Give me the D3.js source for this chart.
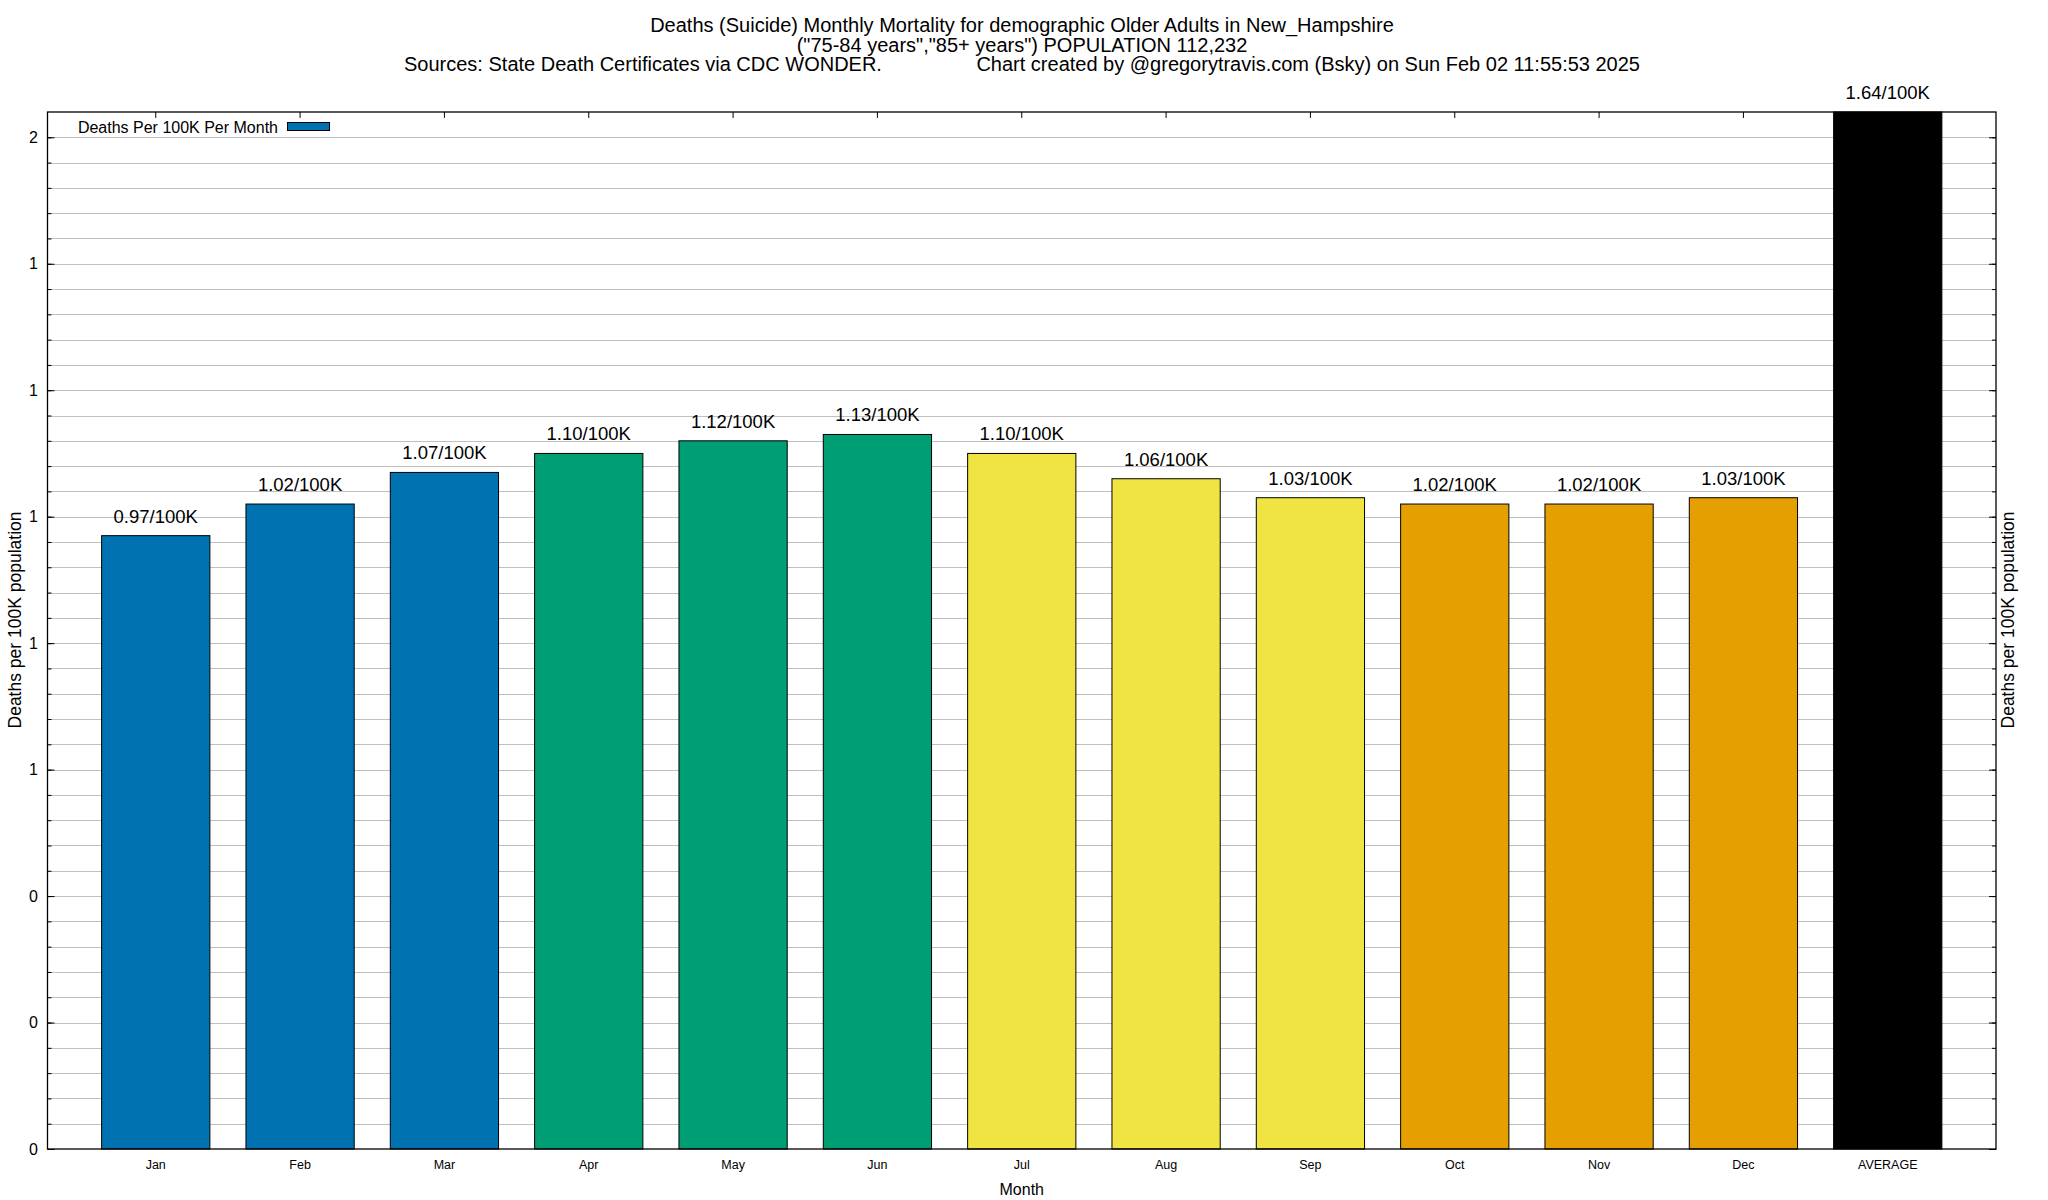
<!DOCTYPE html>
<html>
<head>
<meta charset="utf-8">
<script src="https://cdn.jsdelivr.net/npm/d3@7"></script>
<style>
  body { margin: 0; background: #fff; }
  svg { display: block; font-family: "Liberation Sans", Arial, sans-serif; }
</style>
</head>
<body>
<svg width="2048" height="1200"></svg>
<script>
    // data
    var months = ['Jan', 'Feb', 'Mar', 'Apr', 'May', 'Jun', 'Jul', 'Aug', 'Sep', 'Oct', 'Nov', 'Dec', 'AVERAGE'];
    var rates = [0.97, 1.02, 1.07, 1.10, 1.12, 1.13, 1.10, 1.06, 1.03, 1.02, 1.02, 1.03, 1.64];
    var seasons = ['winter', 'winter', 'winter', 'spring', 'spring', 'spring', 'summer', 'summer', 'summer', 'fall', 'fall', 'fall', 'avg'];
    var yMajorTicks = [0, 0.2, 0.4, 0.6, 0.8, 1.0, 1.2, 1.4, 1.6];

    var titleLines = [
        'Deaths (Suicide) Monthly Mortality for demographic Older Adults in New_Hampshire',
        '("75-84 years","85+ years") POPULATION 112,232',
        'Sources: State Death Certificates via CDC WONDER.                 Chart created by @gregorytravis.com (Bsky) on Sun Feb 02 11:55:53 2025'
    ];

    var width = 2048, height = 1200;
    var margin = ({ top: 112, right: 52, bottom: 51, left: 47.5 });

    var color = d3.scaleOrdinal()
        .domain(['winter', 'spring', 'summer', 'fall', 'avg'])
        .range(['#0072b2', '#009e73', '#f0e442', '#e69f00', '#000000']);

    var x_scale = d3.scaleBand()
        .domain(months)
        .range([margin.left, width - margin.right])
        .paddingInner(0.25)
        .paddingOuter(0.375);

    var y_scale = d3.scaleLinear()
        .domain([0, d3.max(rates)])
        .range([height - margin.bottom, margin.top]);

    var svg = d3.select('svg')
        .attr('viewBox', [0, 0, width, height]);

    var x0 = margin.left, x1 = width - margin.right;
    var yb = y_scale(0), yt = y_scale.range()[1];

    // grid lines at every minor step
    var minor = d3.range(1, 41).map(i => i * 0.04);
    svg.append('g')
        .selectAll('line')
        .data(minor)
        .join('line')
        .attr('x1', x0).attr('x2', x1)
        .attr('y1', d => Math.round(y_scale(d)) + 0.5)
        .attr('y2', d => Math.round(y_scale(d)) + 0.5)
        .attr('stroke', '#c0c0c0')
        .attr('stroke-width', 1);

    // bars
    svg.append('g')
        .selectAll('rect')
        .data(months)
        .join('rect')
        .attr('x', d => x_scale(d))
        .attr('width', x_scale.bandwidth())
        .attr('y', (d, i) => y_scale(rates[i]))
        .attr('height', (d, i) => yb - y_scale(rates[i]))
        .attr('fill', (d, i) => color(seasons[i]))
        .attr('stroke', '#000')
        .attr('stroke-width', 1);

    // bar labels
    svg.append('g')
        .attr('font-size', 18.5)
        .attr('text-anchor', 'middle')
        .selectAll('text')
        .data(months)
        .join('text')
        .attr('x', d => x_scale(d) + x_scale.bandwidth() / 2)
        .attr('y', (d, i) => y_scale(rates[i]) - 13)
        .text((d, i) => rates[i].toFixed(2) + '/100K');

    // y axis left (ticks inside) and mirrored right
    var fmt = d3.format('.0f');
    svg.append('g')
        .attr('transform', `translate(${x0},0)`)
        .call(d3.axisRight(y_scale).tickValues(yMajorTicks).tickSize(7).tickFormat(''))
        .call(g => g.select('.domain').remove());
    svg.append('g')
        .attr('transform', `translate(${x0},0)`)
        .call(d3.axisRight(y_scale).tickValues(minor).tickSize(4).tickFormat(''))
        .call(g => g.select('.domain').remove());
    svg.append('g')
        .attr('transform', `translate(${x1},0)`)
        .call(d3.axisLeft(y_scale).tickValues(yMajorTicks).tickSize(7).tickFormat(''))
        .call(g => g.select('.domain').remove());
    svg.append('g')
        .attr('transform', `translate(${x1},0)`)
        .call(d3.axisLeft(y_scale).tickValues(minor).tickSize(4).tickFormat(''))
        .call(g => g.select('.domain').remove());

    svg.append('g')
        .attr('font-size', 16)
        .attr('text-anchor', 'end')
        .selectAll('text')
        .data(yMajorTicks)
        .join('text')
        .attr('x', 38)
        .attr('y', d => y_scale(d) + 5.5)
        .text(d => fmt(d));

    // top mirrored x ticks
    svg.append('g')
        .attr('transform', `translate(0,${yt})`)
        .call(d3.axisBottom(x_scale).tickSize(6).tickFormat(''))
        .call(g => g.select('.domain').remove());

    // x tick labels
    svg.append('g')
        .attr('font-size', 12.5)
        .attr('text-anchor', 'middle')
        .selectAll('text')
        .data(months)
        .join('text')
        .attr('x', d => x_scale(d) + x_scale.bandwidth() / 2)
        .attr('y', 1169)
        .text(d => d);

    // frame
    svg.append('rect')
        .attr('x', x0).attr('y', yt)
        .attr('width', x1 - x0).attr('height', yb - yt)
        .attr('fill', 'none')
        .attr('stroke', '#000')
        .attr('stroke-width', 1.3);

    // axis titles
    svg.append('text')
        .attr('x', (x0 + x1) / 2).attr('y', 1195)
        .attr('text-anchor', 'middle')
        .attr('font-size', 16)
        .text('Month');
    svg.append('text')
        .attr('transform', `translate(21,620) rotate(-90)`)
        .attr('text-anchor', 'middle')
        .attr('font-size', 17.5)
        .text('Deaths per 100K population');
    svg.append('text')
        .attr('transform', `translate(2014,620) rotate(-90)`)
        .attr('text-anchor', 'middle')
        .attr('font-size', 17.5)
        .text('Deaths per 100K population');

    // title
    svg.append('g')
        .attr('font-size', 20)
        .attr('text-anchor', 'middle')
        .selectAll('text')
        .data(titleLines)
        .join('text')
        .attr('x', 1022)
        .attr('y', (d, i) => 32 + i * 19.6)
        .style('white-space', 'pre')
        .text(d => d);

    // legend
    svg.append('text')
        .attr('x', 278).attr('y', 133)
        .attr('text-anchor', 'end')
        .attr('font-size', 16)
        .text('Deaths Per 100K Per Month');
    svg.append('rect')
        .attr('x', 287.5).attr('y', 122.5)
        .attr('width', 42).attr('height', 8)
        .attr('fill', color('winter'))
        .attr('stroke', '#000')
        .attr('stroke-width', 1);
</script>
</body>
</html>
